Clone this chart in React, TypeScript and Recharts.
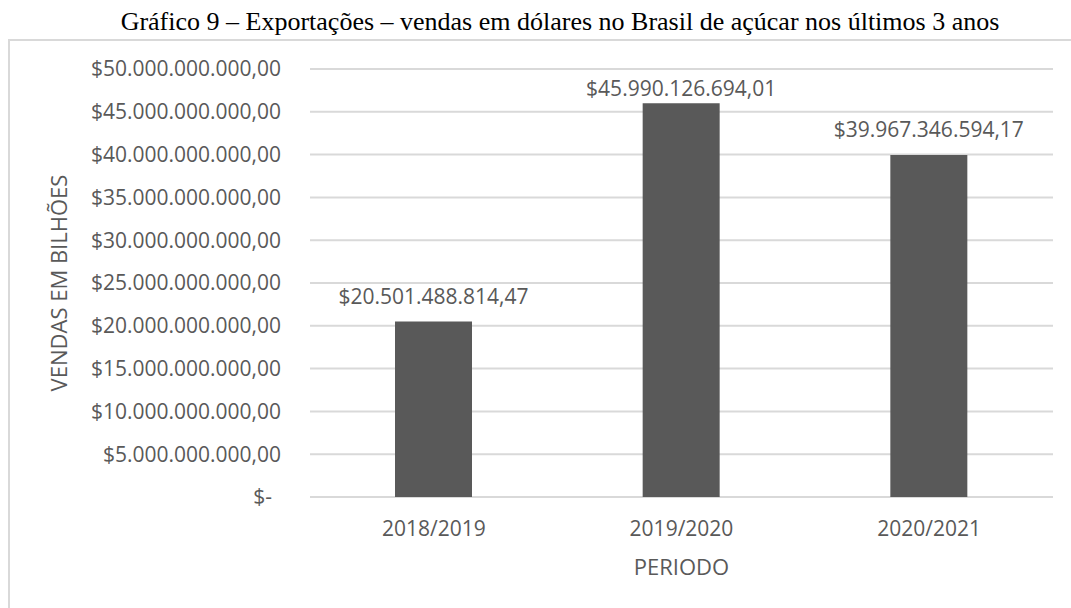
import React from 'react';
import { BarChart, Bar, XAxis, YAxis, CartesianGrid, LabelList } from 'recharts';

const CATEGORIES = ['2018/2019', '2019/2020', '2020/2021'];
const SALES = [20501488814.47, 45990126694.01, 39967346594.17];
const Y_TICKS = [0, 5e9, 10e9, 15e9, 20e9, 25e9, 30e9, 35e9, 40e9, 45e9, 50e9];

const TITLE = 'Gráfico 9 – Exportações – vendas em dólares no Brasil de açúcar nos últimos 3 anos';
const Y_TITLE = 'VENDAS EM BILHÕES';
const X_TITLE = 'PERIODO';

const data = CATEGORIES.map((periodo, i) => ({ periodo, vendas: SALES[i] }));

const SANS = '"Open Sans", sans-serif';
const GREY_TEXT = '#595959';
const PLOT_TOP = 69;

// Excel style currency: $45.990.126.694,01 and "$-" for zero
const formatMoney = (v: number) => {
  if (v === 0) return '$-';
  const [int, dec] = v.toFixed(2).split('.');
  return `$${int.replace(/\B(?=(\d{3})+(?!\d))/g, '.')},${dec}`;
};

const YTick = (props: any) => {
  const { x, y, payload } = props;
  const zero = payload.value === 0;
  return (
    <text x={zero ? x - 9 : x} y={y} dy="0.355em" textAnchor="end" fill={GREY_TEXT} fontSize={21} fontFamily={SANS}>
      {formatMoney(payload.value)}
    </text>
  );
};

const ValueLabel = (props: any) => {
  const { x, y, width, value } = props;
  const cy = Math.max(y - 25, PLOT_TOP + 20);
  return (
    <text x={x + width / 2} y={cy} dy="0.355em" textAnchor="middle" fill={GREY_TEXT} fontSize={21} fontFamily={SANS}>
      {formatMoney(value)}
    </text>
  );
};

const YTitle = (props: any) => {
  const { viewBox } = props;
  const cy = viewBox.y + viewBox.height / 2;
  return (
    <text transform={`translate(67, ${cy}) rotate(-90)`} textAnchor="middle" fill={GREY_TEXT} fontSize={22} fontFamily={SANS}>
      {Y_TITLE}
    </text>
  );
};

const XTitle = (props: any) => {
  const { viewBox } = props;
  return (
    <text x={viewBox.x + viewBox.width / 2} y={viewBox.y + 78} textAnchor="middle" fill={GREY_TEXT} fontSize={22} fontFamily={SANS}>
      {X_TITLE}
    </text>
  );
};

export default function App() {
  return (
    <div style={{ position: 'absolute', left: 0, top: 0, width: 1071, height: 608, overflow: 'hidden', background: '#fff' }}>
      <div
        style={{
          position: 'absolute',
          left: 8,
          top: 39,
          width: 1200,
          height: 700,
          border: '2px solid #d9d9d9',
        }}
      />
      <div
        style={{
          position: 'absolute',
          left: 0,
          top: 9,
          width: 1120,
          textAlign: 'center',
          fontFamily: '"Liberation Serif", "Times New Roman", serif',
          fontSize: 26,
          lineHeight: '26px',
          color: '#000',
          whiteSpace: 'nowrap',
        }}
      >
        {TITLE}
      </div>
      <div style={{ position: 'absolute', left: 0, top: 0 }}>
        <BarChart width={1071} height={608} data={data} margin={{ top: PLOT_TOP, right: 18, bottom: 31, left: 0 }}>
          <CartesianGrid vertical={false} stroke="#d9d9d9" strokeWidth={2} />
          <XAxis
            dataKey="periodo"
            height={80}
            tickLine={false}
            axisLine={false}
            tickSize={0}
            tickMargin={24}
            tick={{ fill: GREY_TEXT, fontSize: 21, fontFamily: SANS }}
            label={{ content: XTitle }}
          />
          <YAxis
            width={310}
            domain={[0, 50e9]}
            ticks={Y_TICKS}
            tickLine={false}
            axisLine={false}
            tickSize={0}
            tickMargin={29}
            tick={<YTick />}
            label={{ content: YTitle }}
          />
          <Bar dataKey="vendas" fill="#595959" barSize={77} isAnimationActive={false}>
            <LabelList dataKey="vendas" content={ValueLabel} />
          </Bar>
        </BarChart>
      </div>
    </div>
  );
}
